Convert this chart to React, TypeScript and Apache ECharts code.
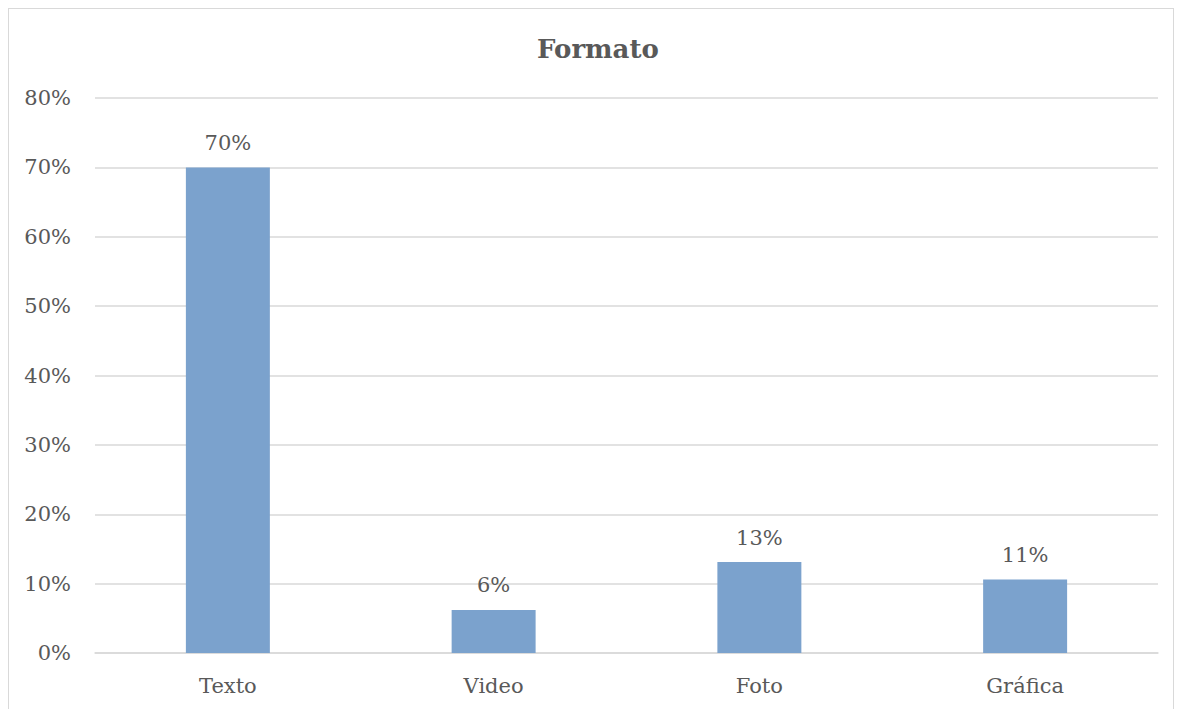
import React, { useEffect, useRef } from "react";
import * as echarts from "echarts";

const categories = ["Texto", "Video", "Foto", "Gráfica"];
const values = [0.7, 0.062, 0.131, 0.106];
const labels = ["70%", "6%", "13%", "11%"];
const yTicks = [0, 0.1, 0.2, 0.3, 0.4, 0.5, 0.6, 0.7, 0.8];

const FONT = "'DejaVu Serif', serif";
const TXT = "#595959";

export default function App() {
  const ref = useRef<HTMLDivElement>(null);
  useEffect(() => {
    if (!ref.current) return;
    const chart = echarts.init(ref.current, undefined, { renderer: "svg" });
    chart.setOption({
      animation: false,
      backgroundColor: "#ffffff",
      title: {
        text: "Formato",
        left: 523,
        top: 22,
        textStyle: { fontFamily: FONT, fontSize: 26, fontWeight: "bold", color: TXT },
      },
      grid: { left: 86, right: 15, top: 89, bottom: 56, containLabel: false },
      xAxis: {
        type: "category",
        data: categories,
        axisTick: { show: false },
        axisLine: { lineStyle: { color: "#d9d9d9", width: 1.5 } },
        axisLabel: { fontFamily: FONT, fontSize: 21, color: TXT, margin: 22 },
      },
      yAxis: {
        type: "value",
        min: yTicks[0],
        max: yTicks[yTicks.length - 1],
        interval: 0.1,
        axisLine: { show: false },
        axisTick: { show: false },
        splitLine: { lineStyle: { color: "#d9d9d9", width: 1.5 } },
        axisLabel: {
          fontFamily: FONT,
          fontSize: 21,
          color: TXT,
          margin: 24,
          formatter: (v: number) => Math.round(v * 100) + "%",
        },
      },
      series: [
        {
          type: "bar",
          data: values,
          barWidth: "31.6%",
          itemStyle: { color: "#7BA2CD" },
          label: {
            show: true,
            position: "top",
            distance: 14,
            fontFamily: FONT,
            fontSize: 21,
            color: TXT,
            formatter: (p: any) => labels[p.dataIndex],
          },
        },
      ],
    });
    return () => chart.dispose();
  }, []);
  return (
    <div style={{ width: 1166, height: 702, border: "1px solid #d9d9d9", boxSizing: "border-box" }}>
      <div ref={ref} style={{ width: 1164, height: 700 }} />
    </div>
  );
}
